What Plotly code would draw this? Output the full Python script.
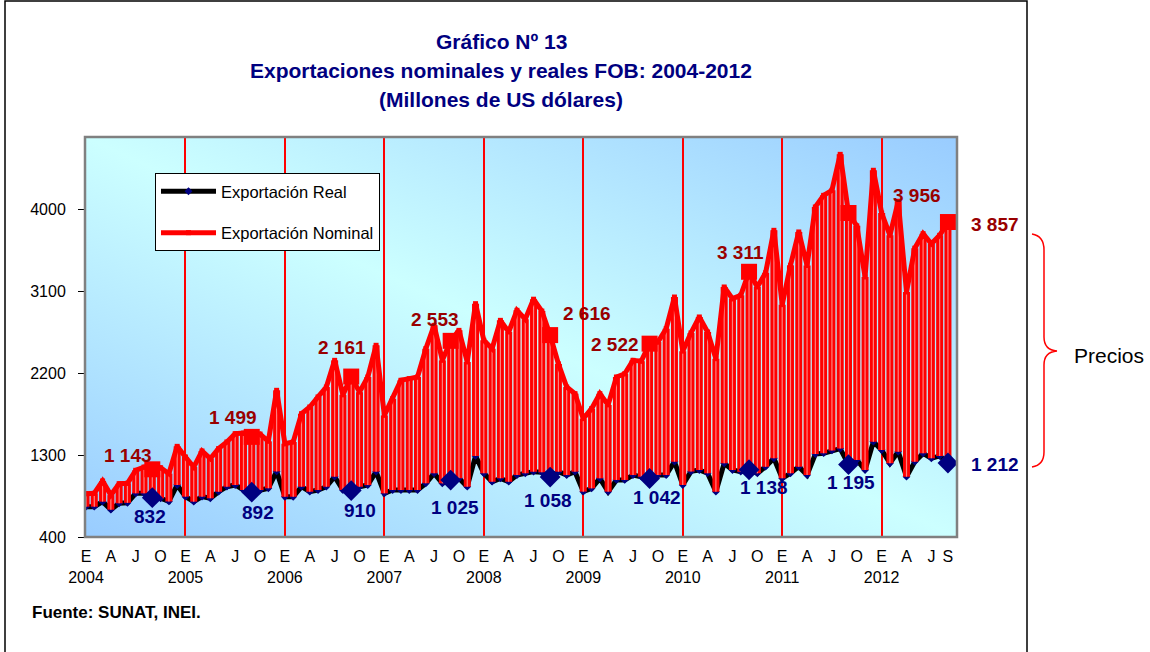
import base64
import plotly.graph_objects as go

# ---------------- data ----------------
years = [2004, 2005, 2006, 2007, 2008, 2009, 2010, 2011, 2012]
month_initials = ["E", "F", "M", "A", "M", "J", "J", "A", "S", "O", "N", "D"]

nominal_2004 = [876, 880, 1015, 860, 985, 990, 1132, 1168, 1143, 1160, 1095, 1395]
nominal_2005 = [1278, 1168, 1344, 1260, 1370, 1443, 1534, 1540, 1499, 1530, 1450, 2010]
nominal_2006 = [1424, 1443, 1753, 1827, 1937, 2046, 2339, 1960, 2161, 1990, 2156, 2504]
nominal_2007 = [1735, 1918, 2120, 2138, 2156, 2467, 2723, 2339, 2553, 2668, 2321, 2961]
nominal_2008 = [2559, 2467, 2778, 2650, 2888, 2790, 3010, 2880, 2616, 2300, 2046, 1973]
nominal_2009 = [1699, 1808, 1973, 1850, 2156, 2192, 2339, 2330, 2522, 2540, 2686, 3034]
nominal_2010 = [2440, 2640, 2815, 2650, 2357, 3144, 3016, 3053, 3311, 3144, 3300, 3766]
nominal_2011 = [2950, 3382, 3748, 3380, 4022, 4150, 4205, 4600, 3956, 3815, 3254, 4425]
nominal_2012 = [3955, 3711, 4085, 3089, 3570, 3729, 3619, 3711, 3857]

real_2004 = [733, 733, 788, 700, 770, 775, 879, 879, 832, 825, 790, 971]
real_2005 = [843, 788, 843, 825, 897, 952, 971, 916, 892, 916, 935, 1120]
real_2006 = [842, 842, 952, 897, 916, 952, 1062, 916, 910, 952, 970, 1117]
real_2007 = [879, 916, 916, 916, 916, 989, 1099, 989, 1025, 1044, 952, 1290]
real_2008 = [1099, 1007, 1044, 1007, 1080, 1099, 1117, 1110, 1058, 1117, 1080, 1117]
real_2009 = [898, 934, 1044, 898, 1026, 1026, 1080, 1062, 1042, 1080, 1080, 1227]
real_2010 = [971, 1120, 1135, 1100, 897, 1209, 1135, 1117, 1138, 1099, 1172, 1264]
real_2011 = [1044, 1099, 1172, 1080, 1310, 1320, 1350, 1370, 1195, 1245, 1135, 1446]
real_2012 = [1355, 1209, 1337, 1062, 1227, 1318, 1264, 1290, 1212]

nominal = (nominal_2004 + nominal_2005 + nominal_2006 + nominal_2007 + nominal_2008
           + nominal_2009 + nominal_2010 + nominal_2011 + nominal_2012)
real = (real_2004 + real_2005 + real_2006 + real_2007 + real_2008
        + real_2009 + real_2010 + real_2011 + real_2012)

months = [f"{y}-{m + 1:02d}" for y in years for m in range(12)][:len(nominal)]
xs = list(range(len(months)))

y_ticks = [400, 1300, 2200, 3100, 4000]
labelled_month = 8  # September of every year carries a data label

# ---------------- geometry helpers ----------------
W, H = 1150, 652
ML, MR, MT, MB = 85, 193, 137, 115
PW, PH = W - ML - MR, H - MT - MB


def px(xp):
    return (xp - ML) / PW


def py(yp):
    return (H - MB - yp) / PH


NAVY = "#000080"
DARKRED = "#990000"
FONT = "Liberation Sans, Arial"

fig = go.Figure()

# real line
fig.add_trace(go.Scatter(
    x=xs, y=real, mode="lines+markers", name="Exportación Real",
    line=dict(color="black", width=5),
    marker=dict(symbol="diamond", size=6, color=NAVY),
    legendgroup="r", hoverinfo="skip"))

# drop (high-low) bars between the two series
bx, by = [], []
for i in xs:
    bx += [i, i, None]
    by += [real[i], nominal[i], None]
fig.add_trace(go.Scatter(x=bx, y=by, mode="lines", line=dict(color="#FF0000", width=7),
                         showlegend=False, hoverinfo="skip"))
fig.add_trace(go.Scatter(x=bx, y=by, mode="lines", line=dict(color="#FF8080", width=1.2),
                         showlegend=False, hoverinfo="skip"))

# nominal line
fig.add_trace(go.Scatter(
    x=xs, y=nominal, mode="lines+markers", name="Exportación Nominal",
    line=dict(color="#FF0000", width=5),
    marker=dict(symbol="square", size=5, color="#FF0000"),
    legendgroup="n", hoverinfo="skip"))

# highlighted (labelled) points -- on the overlay axis that carries the year grid
lab_idx = [i for i in xs if i % 12 == labelled_month]
fig.add_trace(go.Scatter(x=lab_idx, y=[real[i] for i in lab_idx], mode="markers",
                         xaxis="x2", yaxis="y",
                         marker=dict(symbol="diamond", size=16, color=NAVY),
                         showlegend=False, hoverinfo="skip"))
fig.add_trace(go.Scatter(x=lab_idx, y=[nominal[i] for i in lab_idx], mode="markers",
                         xaxis="x2", yaxis="y",
                         marker=dict(symbol="square", size=16, color="#FF0000"),
                         showlegend=False, hoverinfo="skip"))

# data labels (pixel offsets: right / down)
nom_off = [(-24, -14), (-19, -19), (-9, -29), (-16, -21), (37, -22),
           (-35, 1), (-9, -19), (68, -18), (47, 2)]
real_off = [(-2, 19), (6, 20), (9, 20), (4, 27), (-2, 23),
            (7, 19), (15, 18), (2, 18), (47, 1)]


def fmt(v):
    return f"{v:,}".replace(",", " ")


for k, i in enumerate(lab_idx):
    dx, dy = nom_off[k]
    fig.add_annotation(x=i, y=nominal[i], text=f"<b>{fmt(nominal[i])}</b>", showarrow=False,
                       xshift=dx, yshift=-dy, font=dict(family=FONT, size=19, color=DARKRED))
    dx, dy = real_off[k]
    fig.add_annotation(x=i, y=real[i], text=f"<b>{fmt(real[i])}</b>", showarrow=False,
                       xshift=dx, yshift=-dy, font=dict(family=FONT, size=19, color=NAVY))

# x tick labels
tick_vals, tick_text = [], []
for i in xs:
    if i % 3 == 0:
        lt = month_initials[i % 12]
        tick_vals.append(i)
        tick_text.append(f"{lt}<br>{months[i][:4]}" if i % 12 == 0 else lt)
if xs[-1] not in tick_vals:
    tick_vals.append(xs[-1])
    tick_text.append(month_initials[xs[-1] % 12])

year_starts = [i for i in xs if i % 12 == 0 and i > 0]

shapes = []
# plot frame
shapes.append(dict(type="rect", xref="paper", yref="paper", x0=0, x1=1, y0=0, y1=1,
                   line=dict(color="#808080", width=2.5), layer="above"))
# outer frame
shapes.append(dict(type="rect", xref="paper", yref="paper",
                   x0=px(5), x1=px(1027), y0=py(664), y1=py(1),
                   line=dict(color="black", width=1.5), layer="above"))

# curly brace
pts = {
    "a": (1032, 234), "b": (1044, 236), "c": (1044, 250), "d": (1044, 337),
    "e": (1044, 350), "f": (1057, 351), "g": (1044, 352), "h": (1044, 365),
    "i": (1044, 452), "j": (1044, 465), "k": (1032, 467),
}
P = {k: f"{px(v[0]):.5f},{py(v[1]):.5f}" for k, v in pts.items()}
path = (f"M {P['a']} Q {P['b']} {P['c']} L {P['d']} Q {P['e']} {P['f']} "
        f"Q {P['g']} {P['h']} L {P['i']} Q {P['j']} {P['k']}")
shapes.append(dict(type="path", xref="paper", yref="paper", path=path,
                   line=dict(color="#FF0000", width=1.5)))

# titles & texts
title_lines = ["Gráfico Nº 13", "Exportaciones nominales y reales FOB: 2004-2012",
               "(Millones de US dólares)"]
for line, yy in zip(title_lines, [42, 71, 100]):
    fig.add_annotation(xref="paper", yref="paper", x=px(501), y=py(yy), text=f"<b>{line}</b>",
                       showarrow=False, xanchor="center", yanchor="middle",
                       font=dict(family=FONT, size=21, color=NAVY))
fig.add_annotation(xref="paper", yref="paper", x=px(30), y=py(612),
                   text="<b>Fuente: SUNAT, INEI.</b>", showarrow=False,
                   xanchor="left", yanchor="middle", font=dict(family=FONT, size=17, color="black"))
fig.add_annotation(xref="paper", yref="paper", x=px(1109), y=py(355), text="Precios",
                   showarrow=False, xanchor="center", yanchor="middle",
                   font=dict(family=FONT, size=21, color="black"))

# gradient background
svg = ('<svg xmlns="http://www.w3.org/2000/svg" width="872" height="400" '
       'preserveAspectRatio="none"><defs><linearGradient id="bgg" x1="0" y1="1" x2="1" y2="0">'
       '<stop offset="0" stop-color="#99CCFF"/><stop offset="0.5" stop-color="#CCFFFF"/>'
       '<stop offset="1" stop-color="#99CCFF"/></linearGradient></defs>'
       '<rect width="872" height="400" fill="url(#bgg)"/></svg>')
src = "data:image/svg+xml;base64," + base64.b64encode(svg.encode()).decode()

xrange_ = [-1 / 8.288, -1 / 8.288 + PW / 8.288]

fig.update_layout(
    width=W, height=H, margin=dict(l=ML, r=MR, t=MT, b=MB),
    paper_bgcolor="white", plot_bgcolor="rgba(0,0,0,0)",
    images=[dict(source=src, xref="paper", yref="paper", x=0, y=1, sizex=1, sizey=1,
                 sizing="stretch", layer="below")],
    shapes=shapes,
    showlegend=True,
    hovermode=False,
    legend=dict(x=px(155), y=py(173), xanchor="left", yanchor="top",
                bgcolor="white", bordercolor="black", borderwidth=1,
                font=dict(family=FONT, size=16.5, color="black"),
                itemwidth=55, traceorder="grouped", tracegroupgap=17),
    xaxis=dict(range=xrange_, tickmode="array",
               tickvals=tick_vals, ticktext=tick_text, showgrid=False, zeroline=False,
               showline=True, linecolor="black", linewidth=1, ticks="", tickangle=0,
               ticklabelstandoff=5, tickfont=dict(family=FONT, size=16, color="black")),
    xaxis2=dict(overlaying="x", anchor="y", side="bottom", matches="x", range=xrange_,
                tickmode="array", tickvals=year_starts, showticklabels=False, ticks="",
                showline=False, zeroline=False, showgrid=True, gridcolor="#FF0000",
                gridwidth=1.6, layer="below traces"),
    yaxis=dict(range=[400, 400 + PH / 0.09111], tickmode="array", tickvals=y_ticks,
               showgrid=False, zeroline=False, showline=True, linecolor="black", linewidth=1,
               ticks="outside", ticklen=6, tickcolor="black", ticklabelstandoff=9,
               tickfont=dict(family=FONT, size=16, color="black")),
)

fig.write_html("out.html", post_script="document.body.style.margin='0';",
               config={"displayModeBar": False})
